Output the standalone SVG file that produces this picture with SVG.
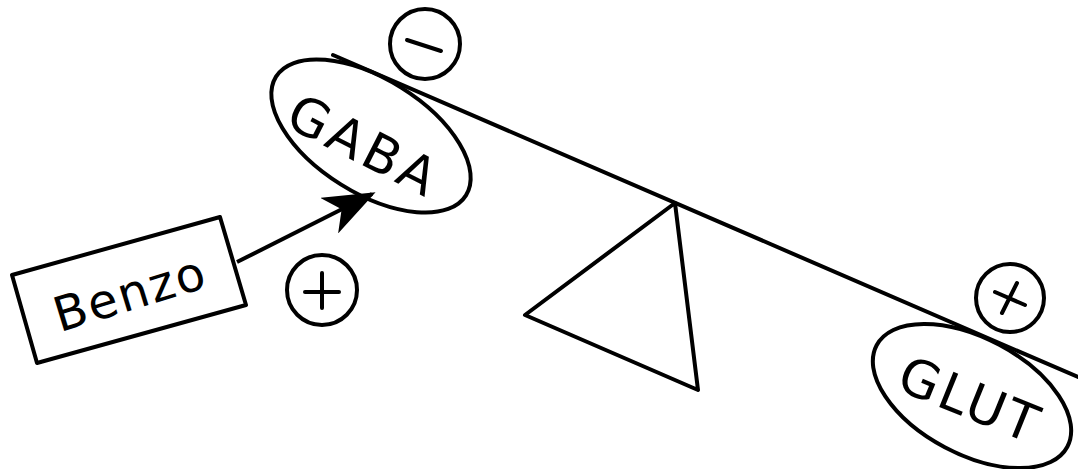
<svg xmlns="http://www.w3.org/2000/svg" width="1078" height="469" viewBox="0 0 1078 469">
<defs>
<style>
.s{fill:none;stroke:#000;stroke-width:4;stroke-linejoin:round;stroke-linecap:round}
.t{font-family:"DejaVu Sans","Liberation Sans",sans-serif;fill:#000;text-anchor:middle;dominant-baseline:central}
</style>
<marker id="ah" markerWidth="14" markerHeight="10" refX="12" refY="5" orient="auto" markerUnits="strokeWidth">
<path d="M0,0 L13,5 L0,10 L3.5,5 Z" fill="#000"/>
</marker>
</defs>
<rect width="1078" height="469" fill="#fff"/>
<g id="beam"><line class="s" x1="333" y1="55" x2="1078" y2="377"/></g>
<g id="fulcrum"><polygon class="s" points="675,203 525,315 698,390"/></g>
<g id="gaba">
<ellipse class="s" cx="371" cy="136" rx="112" ry="57" transform="rotate(32 371 136)"/>
<text class="t" x="364" y="146" font-size="52" letter-spacing="4" transform="rotate(27 364 146)">GABA</text>
</g>
<g id="glut">
<ellipse class="s" cx="972" cy="396" rx="108" ry="58" transform="rotate(28 972 396)"/>
<text class="t" x="970" y="400" font-size="52" letter-spacing="3" transform="rotate(22 970 400)">GLUT</text>
</g>
<g id="benzo">
<polygon class="s" points="12,275 220,217 246,305 37,363"/>
<text class="t" x="130" y="293" font-size="48" letter-spacing="2" transform="rotate(-17 130 293)">Benzo</text>
</g>
<g id="minus">
<circle class="s" cx="425" cy="44" r="35"/>
<line class="s" x1="407" y1="40" x2="441" y2="51"/>
</g>
<g id="plus1">
<circle class="s" cx="322" cy="290" r="35"/>
<line class="s" x1="305" y1="292" x2="339" y2="292"/>
<line class="s" x1="322" y1="273" x2="322" y2="308"/>
</g>
<g id="plus2">
<circle class="s" cx="1010" cy="298" r="34"/>
<line class="s" x1="995" y1="292" x2="1025" y2="305"/>
<line class="s" x1="1017" y1="283" x2="1002" y2="313"/>
</g>
<g id="connectors">
<line x1="237" y1="262" x2="372" y2="194" stroke="#000" stroke-width="4" marker-end="url(#ah)"/>
</g>
</svg>
